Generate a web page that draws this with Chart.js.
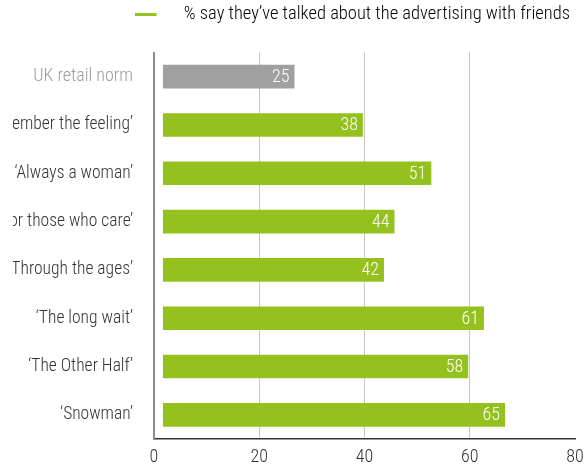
<!DOCTYPE html>
<html>
<head>
<meta charset="utf-8">
<script src="https://cdn.jsdelivr.net/npm/chart.js@4"></script>
<style>
  html, body { margin: 0; padding: 0; background: #fff; }
  #wrap { width: 587px; height: 467px; }
</style>
</head>
<body>
<div id="wrap"><canvas id="barChart"></canvas></div>
<script>
// data
const categories = [
  "UK retail norm",
  "\u2018Remember the feeling\u2019",
  "\u2018Always a woman\u2019",
  "\u2018For those who care\u2019",
  "\u2018Through the ages\u2019",
  "\u2018The long wait\u2019",
  "\u2018The Other Half\u2019",
  "\u2018Snowman\u2019"
];
const talked = [25, 38, 51, 44, 42, 61, 58, 65];
const xTicks = [0, 20, 40, 60, 80];
const seriesLabel = "% say they\u2019ve talked about the advertising with friends";

const FONT = "'Roboto Condensed', 'Liberation Sans Narrow', 'DejaVu Sans Condensed', sans-serif";
const WEIGHT = 300;
const GREEN = "#95c11f";
const GREY = "#a0a0a0";
const BAR_START = 1.7; // bars sit slightly off the axis line

// short green line used as the legend mark
const legendMark = document.createElement("canvas");
legendMark.width = 40;
legendMark.height = 3;
const lm = legendMark.getContext("2d");
lm.fillStyle = GREEN;
lm.fillRect(0, 0, 22, 3);

// white numbers at the end of each bar, grey norm label,
// and the label column cut off near the left edge like the original
const valueLabels = {
  id: "valueLabels",
  afterDatasetsDraw(chart) {
    const ctx = chart.ctx;
    const meta = chart.getDatasetMeta(0);
    ctx.save();
    ctx.font = WEIGHT + " 18px " + FONT;
    ctx.fillStyle = "#fff";
    ctx.textAlign = "right";
    ctx.textBaseline = "middle";
    meta.data.forEach((bar, i) => {
      ctx.fillText(String(talked[i]), bar.x - 5, bar.y + 1);
    });
    ctx.restore();
  },
  afterDraw(chart) {
    const ctx = chart.ctx;
    const a = chart.chartArea;
    const bar = chart.getDatasetMeta(0).data[0];
    ctx.save();
    ctx.fillStyle = "#fff";
    ctx.fillRect(0, a.top, 13, a.bottom - a.top);
    ctx.font = WEIGHT + " 18px " + FONT;
    ctx.fillStyle = "#9c9c9c";
    ctx.textAlign = "right";
    ctx.textBaseline = "middle";
    ctx.fillText(categories[0], a.left - 21, bar.y);
    ctx.restore();
  }
};

// extra room under the legend
const legendGap = {
  id: "legendGap",
  beforeInit(chart) {
    const fit = chart.legend.fit;
    chart.legend.fit = function () {
      fit.bind(chart.legend)();
      this.height += 19;
    };
  }
};

const ctxBar = document.getElementById("barChart").getContext("2d");
const barChart = new Chart(ctxBar, {
  type: "bar",
  data: {
    labels: categories,
    datasets: [
      {
        label: seriesLabel,
        data: talked.map(v => [BAR_START, v + BAR_START]),
        backgroundColor: categories.map((c, i) => (i === 0 ? GREY : GREEN)),
        borderWidth: 0,
        categoryPercentage: 1,
        barPercentage: 0.49,
      },
    ],
  },
  options: {
    indexAxis: "y",
    responsive: true,
    maintainAspectRatio: false,
    animation: false,
    layout: { padding: { left: 0, right: 12, top: 0, bottom: 1 } },
    plugins: {
      tooltip: { enabled: false },
      legend: {
        align: "end",
        labels: {
          usePointStyle: true,
          pointStyleWidth: 40,
          padding: 5,
          color: "#333",
          font: { size: 18.5, family: FONT, weight: WEIGHT },
          generateLabels: () => [
            {
              text: seriesLabel,
              pointStyle: legendMark,
              fillStyle: GREEN,
              strokeStyle: GREEN,
              lineWidth: 0,
              hidden: false,
              datasetIndex: 0,
            },
          ],
        },
      },
    },
    scales: {
      x: {
        min: xTicks[0],
        max: xTicks[xTicks.length - 1],
        afterFit(scale) {
          scale.height = 27;
          scale.paddingRight = 0;
        },
        border: { color: "#333", width: 1.5 },
        grid: {
          drawTicks: false,
          color: c =>
            c.tick && c.tick.value > xTicks[0] && c.tick.value < xTicks[xTicks.length - 1]
              ? "#c6c6c6"
              : "rgba(0,0,0,0)",
        },
        ticks: {
          stepSize: xTicks[1] - xTicks[0],
          padding: 8,
          color: "#333",
          font: { size: 18, family: FONT, weight: WEIGHT },
        },
      },
      y: {
        afterFit(scale) {
          scale.width = 154;
        },
        border: { color: "#8c8c8c", width: 2 },
        grid: {
          drawOnChartArea: false,
          tickLength: 11,
          lineWidth: 1.5,
          color: c => (c.index === categories.length ? "#333" : "rgba(0,0,0,0)"),
        },
        ticks: {
          padding: 10,
          color: c => (c.index === 0 ? "rgba(0,0,0,0)" : "#333"),
          font: { size: 17.5, family: FONT, weight: WEIGHT },
        },
      },
    },
  },
  plugins: [valueLabels, legendGap],
});
</script>
</body>
</html>
